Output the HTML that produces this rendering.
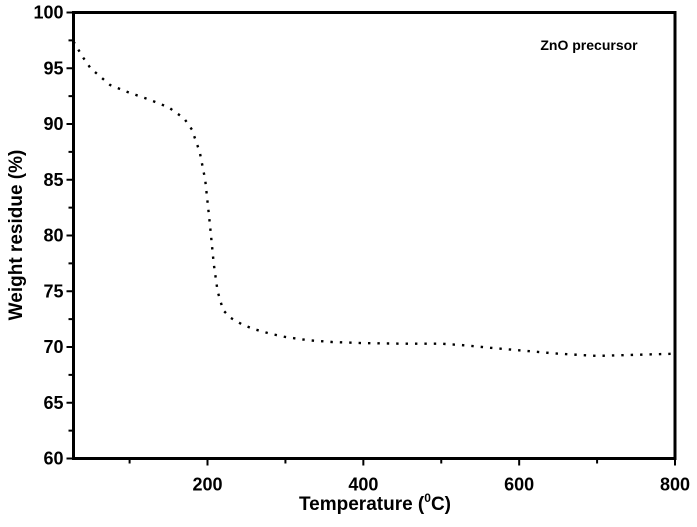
<!DOCTYPE html>
<html><head><meta charset="utf-8"><style>
body{margin:0;background:#fff}
text{font-family:"Liberation Sans",Arial,sans-serif;font-weight:bold;fill:#000}
</style></head><body>
<svg width="697" height="522" viewBox="0 0 697 522">
<g id="ax"></g>
<path id="curve" fill="none" stroke="#000" stroke-width="2.4" stroke-dasharray="2.4 7" stroke-linecap="butt"/>
<rect x="73.5" y="12.5" width="601.5" height="446" fill="none" stroke="#000" stroke-width="3"/>
<text x="589" y="50" font-size="14" text-anchor="middle">ZnO precursor</text>
<text x="375" y="510" font-size="19" text-anchor="middle">Temperature (<tspan font-size="12" dy="-8">0</tspan><tspan dy="8">C)</tspan></text>
<text transform="translate(22,235) rotate(-90)" font-size="19" text-anchor="middle">Weight residue (%)</text>
</svg>
<script>
const temps=[28,40,50,75,100,125,150,170,180,190,197,203,208,213,220,230,245,260,280,300,330,360,400,450,500,530,560,600,650,700,750,800];
const weights=[97.4,96,95,93.5,92.8,92.2,91.5,90.5,89.5,87.5,85,81,77.5,75,73.3,72.6,72,71.6,71.2,70.9,70.6,70.45,70.35,70.3,70.3,70.15,69.95,69.7,69.4,69.2,69.3,69.4];
const xTicks=[200,400,600,800];
const yTicks=[60,65,70,75,80,85,90,95,100];
const X0=73.5,X1=675,Y0=458.5,Y1=12.5,xmin=28,xmax=800,ymin=60,ymax=100;
const sx=v=>X0+(v-xmin)/(xmax-xmin)*(X1-X0);
const sy=v=>Y0-(v-ymin)/(ymax-ymin)*(Y0-Y1);
const NS="http://www.w3.org/2000/svg";
const ax=document.getElementById('ax');
function mk(t,a){const e=document.createElementNS(NS,t);for(const k in a)e.setAttribute(k,a[k]);ax.appendChild(e);return e;}
for(let v=100;v<=800;v+=100){
 const major=xTicks.includes(v);
 const l=mk('line',{x1:sx(v),x2:sx(v),y1:Y0,y2:Y0+(major?7:5),stroke:'#000','stroke-width':2});
 
 
}
xTicks.forEach(v=>{const t=mk('text',{x:sx(v),y:Y0+32,'font-size':18,'text-anchor':'middle'});t.textContent=v;
 
 });
for(let v=60;v<=100;v+=2.5){
 const major=v%5===0;
 const l=mk('line',{x1:X0-(major?7:5),x2:X0,y1:sy(v),y2:sy(v),stroke:'#000','stroke-width':2});
 
 
}
yTicks.forEach(v=>{const t=mk('text',{x:X0-10,y:sy(v)+6,'font-size':18,'text-anchor':'end'});t.textContent=v;
 
 });
document.getElementById('curve').setAttribute('d',temps.map((t,i)=>(i?'L':'M')+sx(t).toFixed(1)+' '+sy(weights[i]).toFixed(1)).join(' '));
</script>
</body></html>
